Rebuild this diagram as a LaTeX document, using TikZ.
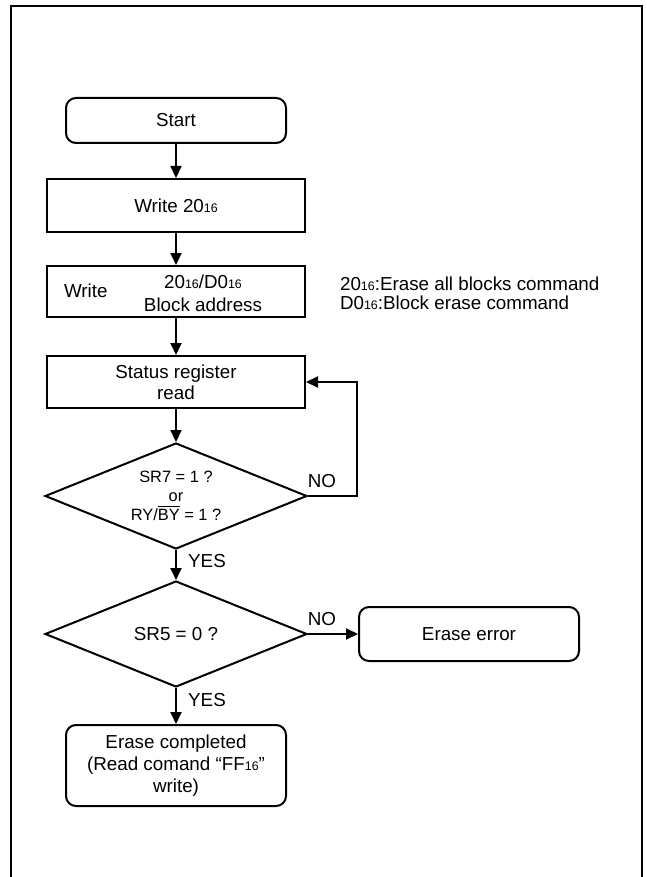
\documentclass[tikz,border=0pt]{standalone}
\usepackage{fontspec}
\setmainfont{Liberation Sans}
\usetikzlibrary{shapes.geometric,arrows.meta}

\newcommand{\hexsub}{{\fontsize{6.2}{6.2}\selectfont 16}}

\begin{document}
\begin{tikzpicture}[x=0.5pt, y=-0.5pt,
    every node/.style={font=\fontsize{9.4}{11.5}\selectfont},
    procbox/.style={draw, line width=1pt, minimum width=129pt, minimum height=26pt, inner sep=0pt},
    termbox/.style={procbox, rounded corners=5pt, minimum width=110pt},
    decision/.style={draw, diamond, line width=1pt, minimum width=131pt, minimum height=53pt, inner sep=0pt, aspect=2.47},
    arr/.style={line width=1pt, -{Triangle[length=6pt, width=5.5pt]}}]
    \useasboundingbox (0,0) rectangle (647,877);
    \draw[line width=1pt] (11,880) -- (11,6) -- (642,6) -- (642,880);

    \node[termbox, minimum height=22.5pt] (start) at (176,120.5) {Start};
    \node[procbox, minimum height=26.5pt] (wcmd) at (176,205.5) {Write 20\hexsub};
    \node[procbox, minimum height=25.5pt] (wblk) at (176,291.5) {};
    \node[anchor=west] (wlbl) at (57,291) {Write};
    \node[align=center] (wtxt) at (203,293.5) {20\hexsub/D0\hexsub\\Block address};
    \node[anchor=west, align=left, font=\fontsize{9.4}{9.6}\selectfont] (notes) at (333,293) {20\hexsub:Erase all blocks command\\D0\hexsub:Block erase command};
    \node[procbox, align=center, minimum height=26pt, font=\fontsize{9.4}{10.3}\selectfont] (sread) at (176,382) {Status register\\read};
    \node[decision, align=center, font=\fontsize{8.2}{9.5}\selectfont] (sr7) at (176,496) {SR7 = 1 ?\\or\\RY/$\overline{\hbox{BY}}$ = 1 ?};
    \node[decision] (sr5) at (176,634) {SR5 = 0 ?};
    \node[termbox, minimum height=27pt] (err) at (469,634) {Erase error};
    \node[termbox, align=center, minimum height=40.5pt, font=\fontsize{9.4}{11}\selectfont] (done) at (176,765.5) {Erase completed\\(Read comand “FF\hexsub”\\write)};

    \coordinate (loop) at (357,496);
    \draw[arr] (start) -- (wcmd);
    \draw[arr] (wcmd) -- (wblk);
    \draw[arr] (wblk) -- (sread);
    \draw[arr] (sread) -- (sr7);
    \draw[arr] (sr7.east) -- (loop) |- (sread.east);
    \draw[arr] (sr7) -- (sr5);
    \draw[arr] (sr5) -- (err);
    \draw[arr] (sr5) -- (done);

    \node (no1) at (322,481) {NO};
    \node (yes1) at (207,561) {YES};
    \node (no2) at (322,619) {NO};
    \node (yes2) at (207,700) {YES};
\end{tikzpicture}
\end{document}
